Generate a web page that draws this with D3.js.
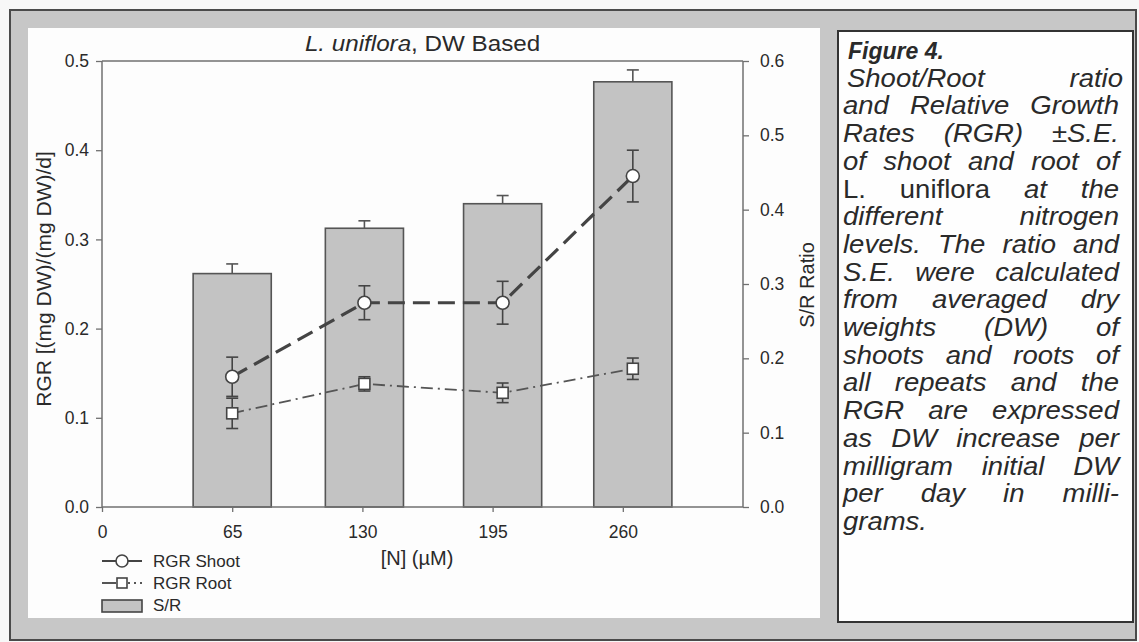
<!DOCTYPE html>
<html>
<head>
<meta charset="utf-8">
<script src="https://cdn.jsdelivr.net/npm/d3@7"></script>
<style>
  html, body { margin: 0; padding: 0; background: #f7f7f7; }
  svg text { font-family: "Liberation Sans", Arial, Helvetica, sans-serif; fill: #2a2a2a; }
</style>
</head>
<body>
<svg id="chart" width="1139" height="642"></svg>
<script>
// ---------------- data ----------------
const nLevels   = [65, 130, 195, 260];          // [N] (µM) categories
const nDrawnAt  = [65, 131, 200, 265];          // N value where each group is drawn in the original
const srRatio   = [0.314, 0.375, 0.408, 0.572]; // S/R ratio (bars, right axis)
const srSE      = [0.013, 0.010, 0.011, 0.016];
const rgrShoot  = [0.146, 0.229, 0.229, 0.371]; // RGR shoot (left axis)
const rgrShootSE= [0.022, 0.019, 0.024, 0.029];
const rgrRoot   = [0.105, 0.138, 0.128, 0.155]; // RGR root (left axis)
const rgrRootSE = [0.017, 0.008, 0.011, 0.012];
const xTicks    = [0, 65, 130, 195, 260];
const leftTicks = [0.0, 0.1, 0.2, 0.3, 0.4, 0.5];
const rightTicks= [0.0, 0.1, 0.2, 0.3, 0.4, 0.5, 0.6];
const legendItems = ["RGR Shoot", "RGR Root", "S/R"];
const captionTitle = "Figure 4.";
// words prefixed with "^" are set upright (the species name), all others italic
const captionLines = [
  ["Shoot/Root", "ratio"],
  ["and", "Relative", "Growth"],
  ["Rates", "(RGR)", "±S.E."],
  ["of", "shoot", "and", "root", "of"],
  ["^L.", "^uniflora", "at", "the"],
  ["different", "nitrogen"],
  ["levels.", "The", "ratio", "and"],
  ["S.E.", "were", "calculated"],
  ["from", "averaged", "dry"],
  ["weights", "(DW)", "of"],
  ["shoots", "and", "roots", "of"],
  ["all", "repeats", "and", "the"],
  ["RGR", "are", "expressed"],
  ["as", "DW", "increase", "per"],
  ["milligram", "initial", "DW"],
  ["per", "day", "in", "milli-"],
  ["grams."]
];

// ---------------- layout ----------------
const svg = d3.select("#chart");
const plot = {left: 102, right: 743, top: 61, bottom: 507};
const axisCol = "#707070";

// page frame
svg.append("rect").attr("x", 0).attr("y", 0).attr("width", 1139).attr("height", 642).attr("fill", "#f7f7f7");
svg.append("rect").attr("x", 10).attr("y", 10).attr("width", 1126).attr("height", 630)
  .attr("fill", "#c7c7c7").attr("stroke", "#4a4a4a").attr("stroke-width", 2);
svg.append("rect").attr("x", 28).attr("y", 28).attr("width", 792).attr("height", 590).attr("fill", "#fdfdfd");
svg.append("rect").attr("x", 838).attr("y", 31).attr("width", 295).attr("height", 591)
  .attr("fill", "#fefefe").attr("stroke", "#333").attr("stroke-width", 2);

// scales
const x = d3.scaleLinear().domain([0, 320]).range([plot.left, plot.right]);
const yL = d3.scaleLinear().domain([0, 0.5]).range([plot.bottom, plot.top]);
const yR = d3.scaleLinear().domain([0, 0.6]).range([plot.bottom, plot.top]);
const barHalf = 19.5; // in µM units

const g = svg.append("g");

// bars
const bars = nLevels.map((n, i) => ({n, xv: nDrawnAt[i], v: srRatio[i], se: srSE[i]}));
g.selectAll("rect.bar").data(bars).join("rect").attr("class", "bar")
  .attr("x", d => x(d.xv - barHalf)).attr("width", d => x(d.xv + barHalf) - x(d.xv - barHalf))
  .attr("y", d => yR(d.v)).attr("height", d => yR(0) - yR(d.v))
  .attr("fill", "#c3c3c3").attr("stroke", "#555").attr("stroke-width", 1.6);
const barErr = g.selectAll("g.berr").data(bars).join("g").attr("class", "berr");
barErr.append("line").attr("x1", d => x(d.xv)).attr("x2", d => x(d.xv))
  .attr("y1", d => yR(d.v)).attr("y2", d => yR(d.v + d.se)).attr("stroke", "#555").attr("stroke-width", 1.6);
barErr.append("line").attr("x1", d => x(d.xv) - 6).attr("x2", d => x(d.xv) + 6)
  .attr("y1", d => yR(d.v + d.se)).attr("y2", d => yR(d.v + d.se)).attr("stroke", "#555").attr("stroke-width", 1.6);

// frame / axes
g.append("line").attr("x1", plot.left).attr("x2", plot.right).attr("y1", plot.top).attr("y2", plot.top)
  .attr("stroke", axisCol).attr("stroke-width", 1.5);
const axL = g.append("g").attr("transform", `translate(${plot.left},0)`)
  .call(d3.axisLeft(yL).tickValues(leftTicks).tickFormat(d3.format(".1f")).tickSize(6).tickPadding(7));
const axR = g.append("g").attr("transform", `translate(${plot.right},0)`)
  .call(d3.axisRight(yR).tickValues(rightTicks).tickFormat(d3.format(".1f")).tickSize(6).tickPadding(11));
const axB = g.append("g").attr("transform", `translate(0,${plot.bottom})`)
  .call(d3.axisBottom(x).tickValues(xTicks).tickFormat(d3.format("d")).tickSize(5).tickPadding(14));
[axL, axR, axB].forEach(a => {
  a.select(".domain").attr("stroke", axisCol).attr("stroke-width", 1.5);
  a.selectAll(".tick line").attr("stroke", axisCol).attr("stroke-width", 1.3);
  a.selectAll(".tick text").attr("font-size", 17.5).attr("fill", "#2a2a2a")
    .attr("font-family", "'Liberation Sans', Arial, sans-serif");
});
axB.select(".domain").attr("d", `M${plot.left},0H${plot.right}`);
axL.select(".domain").attr("d", `M0,${plot.bottom}V${plot.top}`);
axR.select(".domain").attr("d", `M0,${plot.bottom}V${plot.top}`);

// lines
const shootPts = nLevels.map((n, i) => ({xv: nDrawnAt[i], v: rgrShoot[i], se: rgrShootSE[i]}));
const rootPts  = nLevels.map((n, i) => ({xv: nDrawnAt[i], v: rgrRoot[i],  se: rgrRootSE[i]}));
const line = d3.line().x(d => x(d.xv)).y(d => yL(d.v));
g.append("path").datum(shootPts).attr("d", line).attr("fill", "none")
  .attr("stroke", "#444").attr("stroke-width", 3.2).attr("stroke-dasharray", "17,8");
g.append("path").datum(rootPts).attr("d", line).attr("fill", "none")
  .attr("stroke", "#555").attr("stroke-width", 1.8).attr("stroke-dasharray", "12,5,2,5");

function errBars(pts) {
  const e = g.append("g");
  pts.forEach(d => {
    const cx = x(d.xv);
    e.append("line").attr("x1", cx).attr("x2", cx).attr("y1", yL(d.v - d.se)).attr("y2", yL(d.v + d.se))
      .attr("stroke", "#444").attr("stroke-width", 1.6);
    [d.v - d.se, d.v + d.se].forEach(v => e.append("line").attr("x1", cx - 6).attr("x2", cx + 6)
      .attr("y1", yL(v)).attr("y2", yL(v)).attr("stroke", "#444").attr("stroke-width", 1.6));
  });
}
errBars(shootPts);
errBars(rootPts);

g.selectAll("circle.shoot").data(shootPts).join("circle").attr("class", "shoot")
  .attr("cx", d => x(d.xv)).attr("cy", d => yL(d.v)).attr("r", 6.5)
  .attr("fill", "#fff").attr("stroke", "#444").attr("stroke-width", 1.6);
g.selectAll("rect.root").data(rootPts).join("rect").attr("class", "root")
  .attr("x", d => x(d.xv) - 5.5).attr("y", d => yL(d.v) - 5.5).attr("width", 11).attr("height", 11)
  .attr("fill", "#fff").attr("stroke", "#444").attr("stroke-width", 1.6);

// titles
const title = svg.append("text").attr("transform", `translate(${(plot.left + plot.right) / 2},51) scale(1.1,1)`)
  .attr("text-anchor", "middle").attr("font-size", 22);
title.append("tspan").attr("font-style", "italic").text("L. uniflora");
title.append("tspan").text(", DW Based");

svg.append("text").attr("x", 417).attr("y", 565).attr("text-anchor", "middle").attr("font-size", 20).text("[N] (µM)");
svg.append("text").attr("transform", "translate(51,279) rotate(-90)").attr("text-anchor", "middle")
  .attr("font-size", 21).text("RGR [(mg DW)/(mg DW)/d]");
svg.append("text").attr("transform", "translate(814,285) rotate(-90)").attr("text-anchor", "middle")
  .attr("font-size", 20).text("S/R Ratio");

// legend
const lg = svg.append("g");
const ly = [561, 583, 605];
lg.append("line").attr("x1", 102).attr("x2", 142).attr("y1", ly[0]).attr("y2", ly[0]).attr("stroke", "#444").attr("stroke-width", 1.8);
lg.append("circle").attr("cx", 122).attr("cy", ly[0]).attr("r", 6).attr("fill", "#fff").attr("stroke", "#444").attr("stroke-width", 1.6);
lg.append("line").attr("x1", 102).attr("x2", 142).attr("y1", ly[1]).attr("y2", ly[1]).attr("stroke", "#555").attr("stroke-width", 1.8).attr("stroke-dasharray", "14,12,2,4,2,4");
lg.append("rect").attr("x", 117).attr("y", ly[1] - 5).attr("width", 10).attr("height", 10).attr("fill", "#fff").attr("stroke", "#444").attr("stroke-width", 1.6);
lg.append("rect").attr("x", 102).attr("y", 600).attr("width", 40).attr("height", 12).attr("fill", "#c3c3c3").attr("stroke", "#444").attr("stroke-width", 1.6);
lg.selectAll("text.lt").data(legendItems).join("text").attr("class", "lt")
  .attr("x", 153).attr("y", (d, i) => ly[i] + 6).attr("font-size", 17).text(d => d);

// caption (justified, glyphs slightly widened like the scan)
const capLeft = 843, capRight = 1119, capTop = 59, lh = 27.7, sx = 1.1, capFs = 25;
function capWord(txt, yy, opts) {
  const upright = txt.startsWith("^");
  const t = svg.append("text").attr("font-size", opts.fs).attr("fill", "#1e1e1e")
    .attr("font-style", upright ? "normal" : "italic").text(upright ? txt.slice(1) : txt);
  if (opts.bold) t.attr("font-weight", "bold");
  return {t, w: t.node().getComputedTextLength() * opts.sx, y: yy, sx: opts.sx};
}
const ft = capWord(captionTitle, capTop, {fs: 23, sx: 1.0, bold: true});
ft.t.attr("transform", `translate(848,${capTop})`);
captionLines.forEach((words, li) => {
  const yy = capTop + lh * (li + 1);
  const last = li === captionLines.length - 1;
  const items = words.map(w => capWord(w, yy, {fs: capFs, sx}));
  const total = d3.sum(items, d => d.w);
  const gap = (last || words.length === 1) ? 7 : (capRight - capLeft - total) / (words.length - 1);
  let cx = capLeft + (li === 0 ? 4 : 0);
  items.forEach(it => { it.t.attr("transform", `translate(${cx},${yy}) scale(${it.sx},1)`); cx += it.w + gap; });
});
</script>
</body>
</html>
